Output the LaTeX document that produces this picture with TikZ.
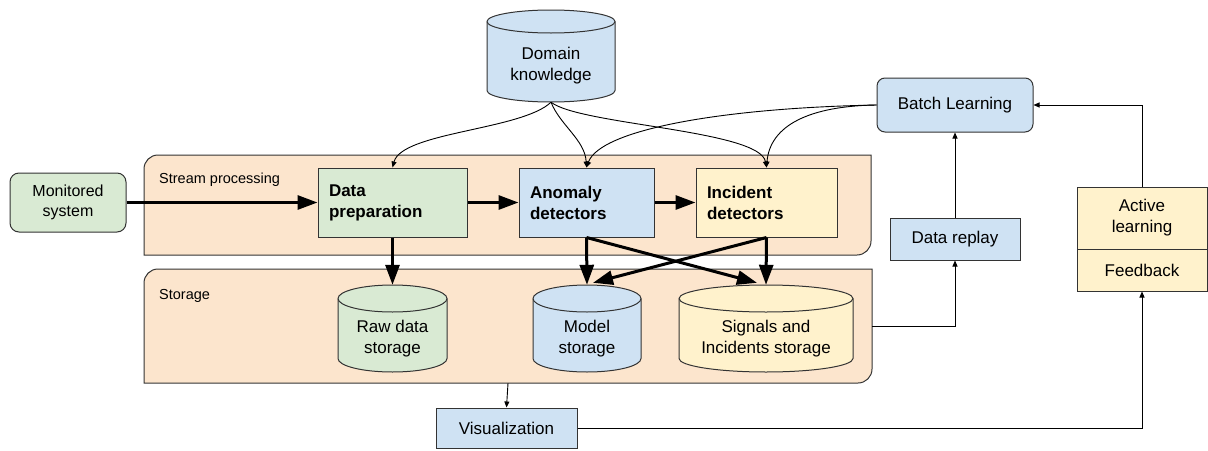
\documentclass[tikz,border=0pt]{standalone}
\usepackage{fontspec}
\setmainfont{Liberation Sans}
\usetikzlibrary{arrows.meta,calc}
\definecolor{peach}{HTML}{FCE5CD}
\definecolor{lgreen}{HTML}{D9EAD3}
\definecolor{lblue}{HTML}{CFE2F3}
\definecolor{lyellow}{HTML}{FFF2CC}
\definecolor{linec}{HTML}{333333}
\newcommand\mycyl[8]{%
 \path[fill=#7, draw=linec, line width=1pt] ({#2-#5},{#3+#6}) -- ({#2-#5},{#4-#6})
   arc[start angle=180, end angle=360, x radius=#5pt, y radius=#6pt] -- ({#2+#5},{#3+#6})
   arc[start angle=0, end angle=180, x radius=#5pt, y radius=#6pt] -- cycle;
 \draw[draw=linec, line width=1pt] ({#2-#5},{#3+#6}) arc[start angle=180, end angle=360, x radius=#5pt, y radius=#6pt];
 \node[inner sep=0pt, minimum width={2*#5pt}, minimum height={(#4-#3)*1pt}] (#1) at (#2,{(#3+#4)/2}) {};
 \node[align=center] (#1-text) at (#2,{(#3+#4)/2+10}) {#8};
}
\begin{document}
\begin{tikzpicture}[x=1pt,y=-1pt,
 every node/.style={font=\fontsize{17pt}{21pt}\selectfont, text=black},
 bx/.style={draw=linec, line width=1pt, inner sep=0pt, align=center},
 boldbx/.style={bx, font=\fontsize{17pt}{21pt}\selectfont\bfseries, align=left, inner xsep=11pt, inner ysep=0pt, minimum height=69pt},
 bigarrow/.style={line width=3pt, draw=black, -{Triangle[length=20pt,width=14pt]}},
 smallarrow/.style={line width=0.9pt, draw=black, -{Triangle[length=6pt,width=5pt]}},
 lbl/.style={font=\fontsize{14.5pt}{17pt}\selectfont, anchor=west, inner sep=0pt},
 cont/.style={fill=peach, draw=linec, line width=1pt}]
\useasboundingbox (0,0) rectangle (1208,450);

% containers
\path[cont] (144,255) -- (144,169) arc[start angle=180, end angle=90, radius=14pt] -- (871,155) -- (871,241) arc[start angle=0, end angle=-90, radius=14pt] -- cycle;
\node[inner sep=0pt, minimum width=727pt, minimum height=100pt] (stream) at (507.5,205) {};
\node[lbl] (streamlbl) at (159,180) {Stream processing};

\path[cont] (144,383) -- (144,283) arc[start angle=180, end angle=90, radius=14pt] -- (872,269) -- (872,369) arc[start angle=0, end angle=-90, radius=14pt] -- cycle;
\node[inner sep=0pt, minimum width=728pt, minimum height=114pt] (storage) at (508,326) {};
\node[lbl] (storagelbl) at (159,296) {Storage};

% boxes
\node[bx, fill=lgreen, rounded corners=9pt, minimum width=116pt, minimum height=59pt, font=\fontsize{16pt}{20pt}\selectfont] (mon) at (68,202.5) {Monitored\\system};
\node[boldbx, fill=lgreen, text width=127pt] (prep) at (392.5,202.5) {Data\\preparation};
\node[boldbx, fill=lblue, text width=113pt] (anom) at (586.5,202.5) {Anomaly\\detectors};
\node[boldbx, fill=lyellow, text width=119pt] (inc) at (766.5,202.5) {Incident\\detectors};
\node[bx, fill=lblue, rounded corners=8pt, minimum width=156pt, minimum height=54pt] (batch) at (955,105) {Batch Learning};
\node[bx, fill=lblue, minimum width=130pt, minimum height=42pt] (replay) at (955,239) {Data replay};
\node[bx, fill=lyellow, minimum width=130pt, minimum height=62pt] (active) at (1142,218) {Active\\learning};
\node[bx, fill=lyellow, minimum width=130pt, minimum height=42pt] (fb) at (1142,270) {Feedback};
\node[bx, fill=lblue, minimum width=141pt, minimum height=40pt] (viz) at (506.5,428) {Visualization};

% cylinders
\mycyl{dom}{551}{10}{102}{64}{11.5}{lblue}{Domain\\knowledge}
\mycyl{raw}{392.5}{285}{372}{54.5}{13.5}{lgreen}{Raw data\\storage}
\mycyl{model}{587}{285}{372}{54}{13.5}{lblue}{Model\\storage}
\mycyl{sig}{766}{285}{372}{87}{13.5}{lyellow}{Signals and\\Incidents storage}

% thick arrows
\draw[bigarrow] (mon.east) -- (prep.west);
\draw[bigarrow] (prep.east) -- (anom.west);
\draw[bigarrow] (anom.east) -- (inc.west);
\draw[bigarrow] (prep.south) -- (raw.north);
\draw[bigarrow] (anom.south) -- (model.north);
\draw[bigarrow] (anom.south) -- ($(sig.north)+(-9,-2)$);
\draw[bigarrow] (inc.south) -- ($(model.north)+(6,-2)$);
\draw[bigarrow] (inc.south) -- (sig.north);

% thin curved arrows
\draw[smallarrow] (dom.south) .. controls (522,130) and (402,132) .. (prep.north);
\draw[smallarrow] (dom.south) .. controls (560,125) and (585,140) .. (anom.north);
\draw[smallarrow] (dom.south) .. controls (580,125) and (760,130) .. (inc.north);
\draw[smallarrow] (batch.west) .. controls (720,108) and (600,130) .. (anom.north);
\draw[smallarrow] (batch.west) .. controls (810,106) and (770,125) .. (inc.north);

% orthogonal connectors
\draw[smallarrow] (storage.east) -| (replay.south);
\draw[smallarrow] (replay.north) -- (batch.south);
\draw[smallarrow] (active.north) |- (batch.east);
\draw[smallarrow] (viz.east) -| (fb.south);
\draw[smallarrow] (storage.south) -- (viz.north);
\end{tikzpicture}
\end{document}
